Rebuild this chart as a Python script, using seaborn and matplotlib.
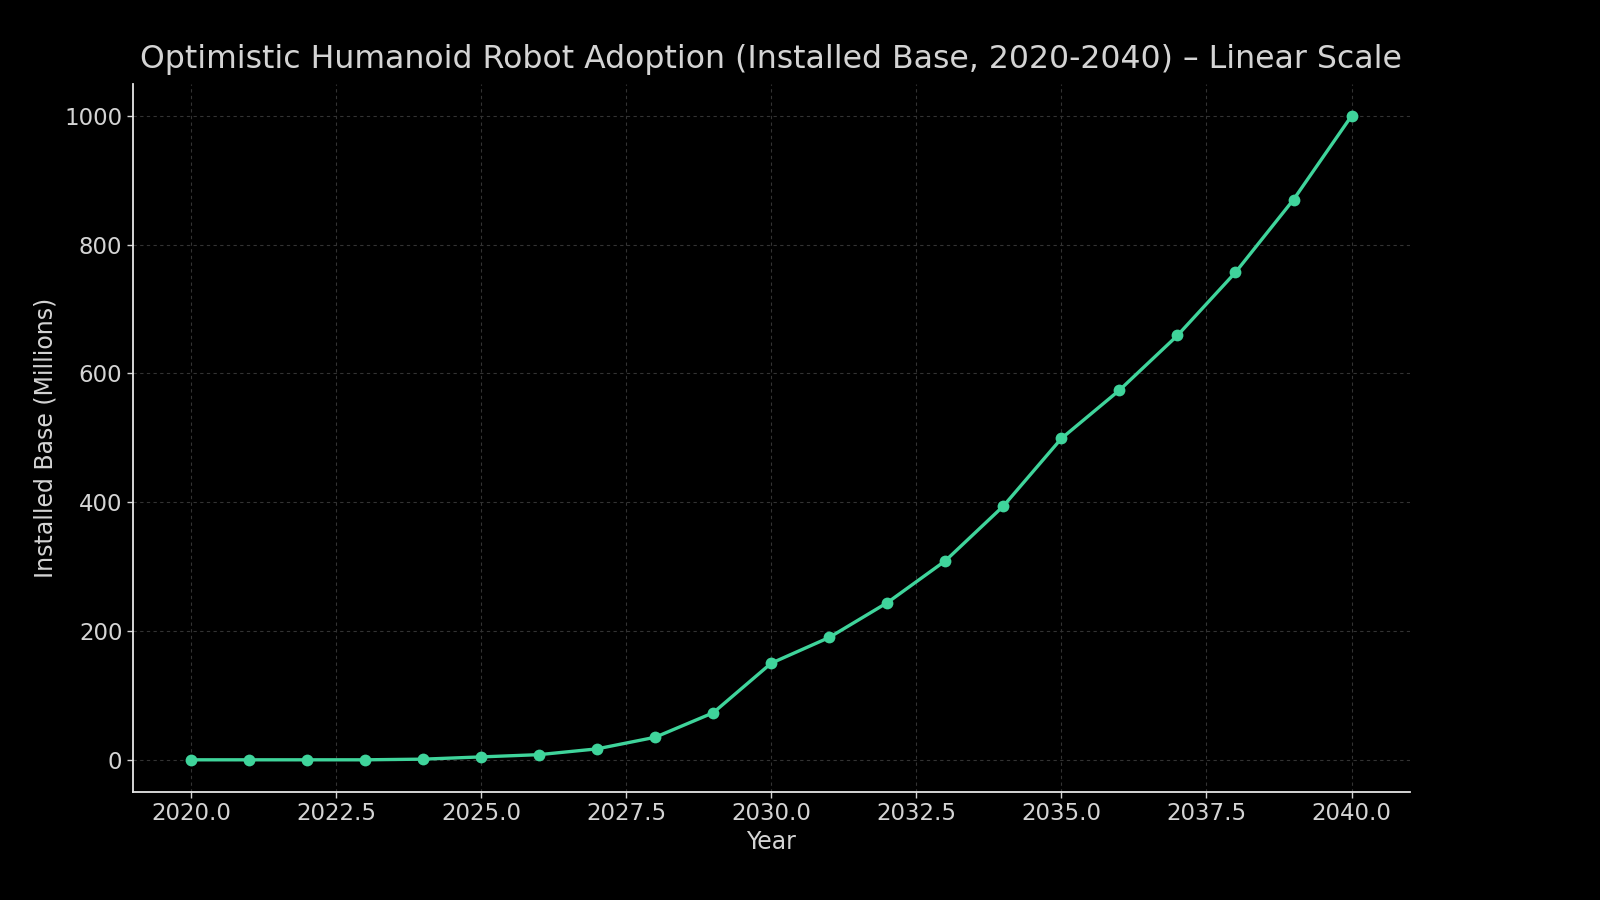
import matplotlib
matplotlib.use("Agg")
import matplotlib.pyplot as plt
import seaborn as sns
import pandas as pd

years = list(range(2020, 2041))
installed_base = [0, 0, 0, 0, 1, 4.5, 8, 17, 35, 73, 150, 190, 244, 309, 394, 499, 574, 659, 757, 870, 1000]

title = "Optimistic Humanoid Robot Adoption (Installed Base, 2020-2040) \u2013 Linear Scale"
xlabel = "Year"
ylabel = "Installed Base (Millions)"

df = pd.DataFrame({"Year": years, "Installed": installed_base})

sns.set_theme(style="dark")
plt.rcParams["font.family"] = ["DejaVu Sans"]
text_color = "#d4d4d4"
line_color = "#3fd49b"

fig = plt.figure(figsize=(16, 9), dpi=100, facecolor="black")
ax = fig.add_axes([0.083, 0.12, 0.798, 0.787])
ax.set_facecolor("black")

sns.lineplot(data=df, x="Year", y="Installed", ax=ax, color=line_color,
             linewidth=2.4, marker="o", markersize=8.5, markeredgewidth=0,
             markerfacecolor=line_color)

ax.grid(True, linestyle=(0, (3, 3)), color="#333333", linewidth=0.8)
for s in ["top", "right"]:
    ax.spines[s].set_visible(False)
for s in ["left", "bottom"]:
    ax.spines[s].set_visible(True)
    ax.spines[s].set_color("#e6e6e6")
    ax.spines[s].set_linewidth(1.3)

ax.tick_params(axis="both", colors=text_color, labelsize=16.5, length=4, width=1,
               left=True, bottom=True, labelcolor=text_color)
ax.set_title(title, color=text_color, fontsize=22.7, pad=11)
ax.set_xlabel(xlabel, color=text_color, fontsize=17, labelpad=3)
ax.set_ylabel(ylabel, color=text_color, fontsize=17, labelpad=5)

fig.savefig("out.png", dpi=100, facecolor="black")
